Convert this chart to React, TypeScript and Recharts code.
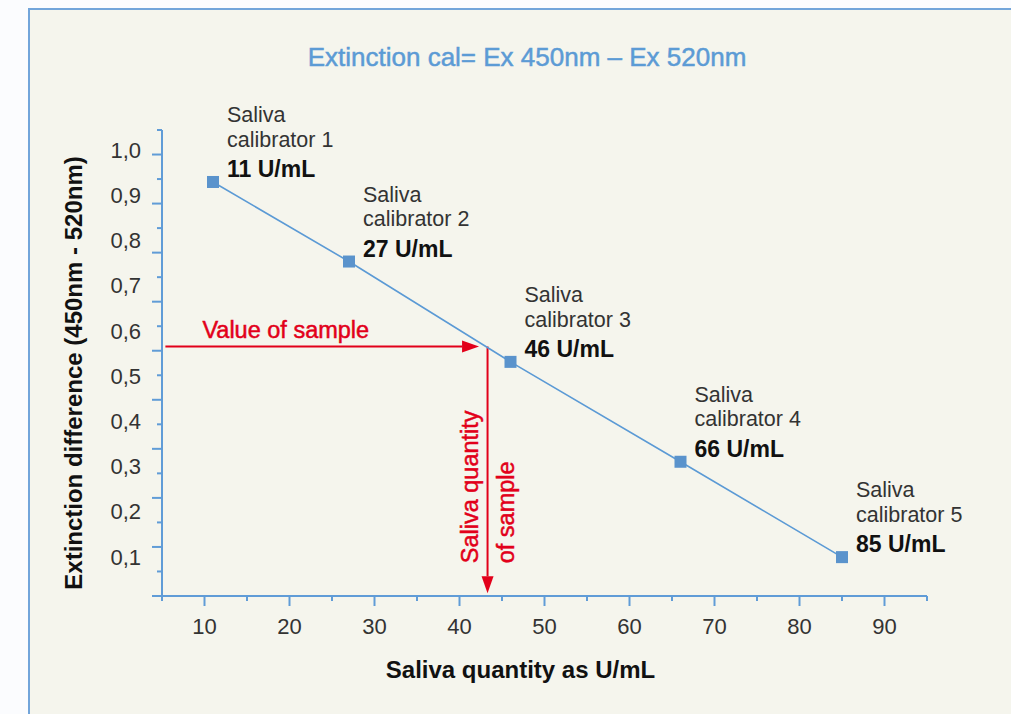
import React from 'react';
import { LineChart, Line, XAxis, YAxis, ReferenceLine, LabelList, Label } from 'recharts';

// ---------- data ----------
const calibratorPrefix = 'Saliva';
const calibratorNames = ['calibrator 1', 'calibrator 2', 'calibrator 3', 'calibrator 4', 'calibrator 5'];
const concentrations = [11, 27, 46, 66, 85];
const extinctions = [0.929, 0.753, 0.531, 0.31, 0.099];
const concentrationUnit = 'U/mL';

const xTicks = [5, 10, 15, 20, 25, 30, 35, 40, 45, 50, 55, 60, 65, 70, 75, 80, 85, 90, 95];
const xMajorTicks = [10, 20, 30, 40, 50, 60, 70, 80, 90];
const xTickLabels = ['10', '20', '30', '40', '50', '60', '70', '80', '90'];

// value scale of the labelled y axis (as printed labels imply)
const yValueDomain = [0.013, 1.044];
const yLabelTicks = [0.1, 0.2, 0.3, 0.4, 0.5, 0.6, 0.7, 0.8, 0.9, 1.0];
const yTickLabels = ['0,1', '0,2', '0,3', '0,4', '0,5', '0,6', '0,7', '0,8', '0,9', '1,0'];
// printed tick-mark ruler on the y axis (its marks are spaced independently of the labels)
const yRulerDomain = [0, 0.95];
const yRulerTicks = [0, 0.05, 0.1, 0.15, 0.2, 0.25, 0.3, 0.35, 0.4, 0.45, 0.5, 0.55, 0.6, 0.65, 0.7, 0.75, 0.8, 0.85, 0.9, 0.95];

const sampleExtinction = 0.565;
const sampleQuantity = 43.3;
const sampleArrowStart = 5.4;
const sampleArrowEnd = 42.3;
const quantityArrowEnd = 0.019;

const chartTitle = 'Extinction cal= Ex 450nm – Ex 520nm';
const xAxisTitle = 'Saliva quantity as U/mL';
const yAxisTitle = 'Extinction difference (450nm - 520nm)';
const sampleValueLabel = 'Value of sample';
const sampleQuantityLabels = ['Saliva quantity', 'of sample'];

const calData = concentrations.map((c, i) => ({ x: c, y: extinctions[i] }));

// ---------- styles ----------
const FONT = '"Liberation Sans", Arial, Helvetica, sans-serif';
const AXIS_BLUE = '#609cd7';
const LINE_BLUE = '#5b9ad5';
const MARK_BLUE = '#5a93cc';
const RED = '#e2001a';
const TEXT_DARK = '#333333';
const TITLE_BLUE = '#5c9bd5';

function XTick(props: any) {
  const { x, y, payload } = props;
  const v = payload.value;
  const idx = xMajorTicks.indexOf(v);
  const major = idx >= 0;
  return (
    <g>
      <line x1={x} y1={y} x2={x} y2={y + (major ? 10 : 5)} stroke={AXIS_BLUE} strokeWidth={2} />
      {major && (
        <text x={x} y={y + 30} dy="0.36em" textAnchor="middle" fontSize={22} fill={TEXT_DARK} fontFamily={FONT}>
          {xTickLabels[idx]}
        </text>
      )}
    </g>
  );
}

function YRulerTick(props: any) {
  const { x, y, payload } = props;
  const v = payload.value;
  const major = Math.abs(v * 10 - Math.round(v * 10)) < 1e-6;
  return <line x1={x - (major ? 10 : 5)} y1={y} x2={x} y2={y} stroke={AXIS_BLUE} strokeWidth={2} />;
}

function YLabelTick(props: any) {
  const { x, y, payload } = props;
  const idx = yLabelTicks.findIndex((t) => Math.abs(t - payload.value) < 1e-6);
  if (idx < 0) return <g />;
  return (
    <text x={x - 20} y={y} dy="0.36em" textAnchor="end" fontSize={22} fill={TEXT_DARK} fontFamily={FONT}>
      {yTickLabels[idx]}
    </text>
  );
}

function SquareDot(props: any) {
  const { cx, cy, index } = props;
  if (cx == null || cy == null) return <g key={`d-${index}`} />;
  return <rect key={`d-${index}`} x={cx - 6} y={cy - 6} width={12} height={12} fill={MARK_BLUE} />;
}

function CalibratorLabel(props: any) {
  const x = props.x ?? props.viewBox?.x;
  const y = props.y ?? props.viewBox?.y;
  let idx = concentrations.indexOf(Number(props.value));
  if (idx < 0) idx = props.index ?? 0;
  const tx = x + 14;
  return (
    <text fontFamily={FONT} fontSize={21.5} fill={TEXT_DARK}>
      <tspan x={tx} y={y - 67.5} dy="0.36em">{calibratorPrefix}</tspan>
      <tspan x={tx} y={y - 43} dy="0.36em">{calibratorNames[idx]}</tspan>
      <tspan x={tx} y={y - 13} dy="0.36em" fontSize={23} fontWeight="bold" fill="#111111">
        {`${concentrations[idx]} ${concentrationUnit}`}
      </tspan>
    </text>
  );
}

function arrowParts(props: any, head: number, halfW: number) {
  const { x1, y1, x2, y2 } = props;
  const dx = x2 - x1;
  const dy = y2 - y1;
  const len = Math.hypot(dx, dy) || 1;
  const ux = dx / len;
  const uy = dy / len;
  const bx = x2 - ux * head;
  const by = y2 - uy * head;
  const px = -uy * halfW;
  const py = ux * halfW;
  return (
    <>
      <line x1={x1} y1={y1} x2={bx} y2={by} stroke={RED} strokeWidth={2} />
      <polygon points={`${x2},${y2} ${bx + px},${by + py} ${bx - px},${by - py}`} fill={RED} />
    </>
  );
}

function HorizontalArrow(props: any) {
  const { x1, y1 } = props;
  return (
    <g>
      {arrowParts(props, 17, 6)}
      <text x={x1 + 37} y={y1 - 17} dy="0.36em" fontSize={23.5} fill={RED} fontFamily={FONT} stroke={RED} strokeWidth={0.5}>
        {sampleValueLabel}
      </text>
    </g>
  );
}

function VerticalArrow(props: any) {
  const { x1, y2 } = props;
  const ty = y2 - 30;
  const ax = x1 - 17.7;
  const bx = x1 + 18.3;
  return (
    <g>
      {arrowParts(props, 17, 6)}
      <text x={ax} y={ty} dy="0.36em" transform={`rotate(-90 ${ax} ${ty})`} fontSize={23.5} fill={RED} fontFamily={FONT} stroke={RED} strokeWidth={0.5}>
        {sampleQuantityLabels[0]}
      </text>
      <text x={bx} y={ty} dy="0.36em" transform={`rotate(-90 ${bx} ${ty})`} fontSize={23.5} fill={RED} fontFamily={FONT} stroke={RED} strokeWidth={0.5}>
        {sampleQuantityLabels[1]}
      </text>
    </g>
  );
}

function XTitle(props: any) {
  const vb = props.viewBox || {};
  const cx = vb.x + vb.width / 2 - 24;
  const cy = vb.y + 73;
  return (
    <text x={cx} y={cy} dy="0.36em" textAnchor="middle" fontSize={24} fontWeight="bold" fill="#111111" fontFamily={FONT}>
      {xAxisTitle}
    </text>
  );
}

function YTitle(props: any) {
  const vb = props.viewBox || {};
  const cx = vb.x - 26;
  const cy = vb.y + vb.height / 2 + 10;
  return (
    <text x={cx} y={cy} dy="0.36em" textAnchor="middle" transform={`rotate(-90 ${cx} ${cy})`} fontSize={24} fontWeight="bold" fill="#111111" fontFamily={FONT}>
      {yAxisTitle}
    </text>
  );
}

export default function App() {
  return (
    <div style={{ position: 'fixed', left: 0, top: 0, width: 1011, height: 714, background: '#fbfcfe', overflow: 'hidden', fontFamily: FONT }}>
      <div
        style={{
          position: 'absolute',
          left: 28,
          top: 8,
          width: 1100,
          height: 800,
          background: '#f5f5ed',
          borderLeft: '2px solid #72a5da',
          borderTop: '2px solid #72a5da',
        }}
      />
      <div
        style={{
          position: 'absolute',
          left: 527,
          top: 44,
          transform: 'translateX(-50%)',
          whiteSpace: 'nowrap',
          fontSize: 26,
          lineHeight: '26px',
          color: TITLE_BLUE,
          WebkitTextStroke: `0.5px ${TITLE_BLUE}`,
        }}
      >
        {chartTitle}
      </div>
      <div style={{ position: 'absolute', left: 0, top: 0 }}>
        <LineChart width={1011} height={714} data={calData} margin={{ top: 130, right: 84, bottom: 58, left: 99 }}>
          <XAxis
            dataKey="x"
            type="number"
            domain={[5, 95]}
            ticks={xTicks}
            interval={0}
            tickSize={0}
            tickMargin={0}
            height={60}
            axisLine={{ stroke: AXIS_BLUE, strokeWidth: 2 }}
            tickLine={false}
            tick={XTick}
            allowDataOverflow
          >
            <Label content={XTitle} />
          </XAxis>
          <YAxis
            yAxisId="ruler"
            type="number"
            domain={yRulerDomain}
            ticks={yRulerTicks}
            interval={0}
            tickSize={0}
            tickMargin={0}
            width={1}
            axisLine={{ stroke: AXIS_BLUE, strokeWidth: 2 }}
            tickLine={false}
            tick={YRulerTick}
            allowDataOverflow
          />
          <YAxis
            yAxisId="value"
            type="number"
            domain={yValueDomain}
            ticks={yLabelTicks}
            interval={0}
            tickSize={0}
            tickMargin={0}
            width={62}
            axisLine={false}
            tickLine={false}
            tick={YLabelTick}
            allowDataOverflow
          >
            <Label content={YTitle} />
          </YAxis>
          <ReferenceLine
            yAxisId="value"
            segment={[
              { x: sampleArrowStart, y: sampleExtinction },
              { x: sampleArrowEnd, y: sampleExtinction },
            ]}
            shape={HorizontalArrow}
          />
          <ReferenceLine
            yAxisId="value"
            segment={[
              { x: sampleQuantity, y: sampleExtinction },
              { x: sampleQuantity, y: quantityArrowEnd },
            ]}
            shape={VerticalArrow}
          />
          <Line
            yAxisId="value"
            type="linear"
            dataKey="y"
            stroke={LINE_BLUE}
            strokeWidth={1.6}
            dot={SquareDot}
            activeDot={false}
            isAnimationActive={false}
          >
            <LabelList dataKey="x" content={CalibratorLabel} />
          </Line>
        </LineChart>
      </div>
    </div>
  );
}
